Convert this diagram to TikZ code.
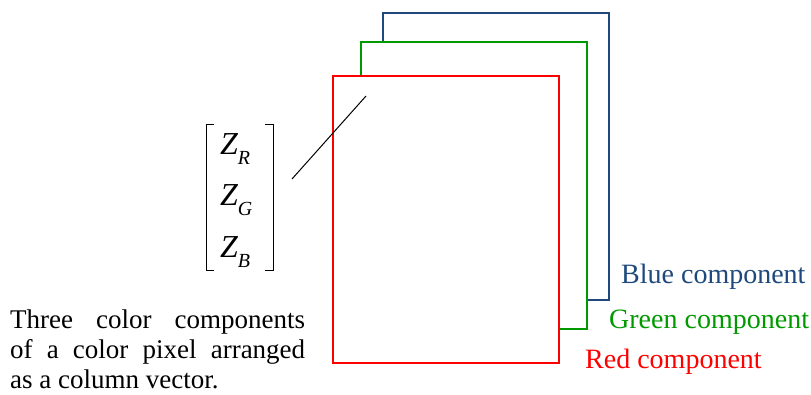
\documentclass[tikz,border=0pt]{standalone}
\usepackage{fontspec}
\setmainfont{Liberation Serif}
\definecolor{planeblue}{RGB}{31,73,125}
\definecolor{planegreen}{RGB}{0,153,0}
\definecolor{planered}{RGB}{255,0,0}
\newcommand{\zsub}[1]{\raisebox{-0.32em}{\fontsize{20}{20}\selectfont #1}}
\begin{document}
\begin{tikzpicture}
    [x=1pt,y=-1pt,
     plane/.style={draw,line width=2pt,fill=white,minimum width=226pt,minimum height=287pt,inner sep=0pt},
     compname/.style={anchor=base west,inner sep=0pt,font=\fontsize{28}{34}\selectfont},
     entry/.style={anchor=base west,inner sep=0pt,font=\fontsize{32}{36}\selectfont\itshape},
     bracket/.style={line width=1pt}]
    \useasboundingbox (0,0) rectangle (811,394);
    \node (blue)  at (495.5,156.5) [plane,draw=planeblue]  {};
    \node (green) at (474,185)     [plane,draw=planegreen] {};
    \node (red)   at (446,219)     [plane,draw=planered]   {};
    \node (bluename)  at (621,283) [compname,text=planeblue]  {Blue component};
    \node (greenname) at (609,328) [compname,text=planegreen] {Green component};
    \node (redname)   at (585,368) [compname,text=planered]   {Red component};
    \node (zr) at (220,154) [entry] {Z\zsub{R}};
    \node (zg) at (220,205) [entry] {Z\zsub{G}};
    \node (zb) at (220,257) [entry] {Z\zsub{B}};
    \draw [bracket] (214,124) -- (206,124) -- (206,270) -- (214,270);
    \draw [bracket] (265,124) -- (273,124) -- (273,270) -- (265,270);
    \coordinate (tail)  at (292,179);
    \coordinate (pixel) at (366,96);
    \draw [line width=1pt] (tail) -- (pixel);
    \node (caption) at (10,310) [anchor=north west,inner sep=0pt,text width=295pt,align=justify,
      font=\fontsize{27}{30}\selectfont]
      {Three color components\linebreak of a color pixel arranged\linebreak as a column vector.};
  \end{tikzpicture}
\end{document}
